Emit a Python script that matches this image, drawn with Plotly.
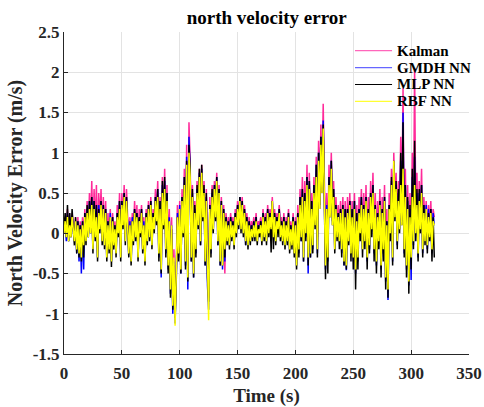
import plotly.graph_objects as go

time_s = list(range(0, 321))

kalman = [
    0.05, 0.20, 0.00, 0.30, -0.05, 0.20, 0.00, 0.25, 0.10, -0.05,
    0.20, -0.15, 0.20, -0.20, 0.15, -0.25, 0.20, -0.10, 0.30, 0.00,
    0.40, 0.05, 0.50, 0.10, 0.65, -0.10, 0.55, 0.05, 0.60, -0.20,
    0.50, 0.15, 0.55, 0.00, 0.45, -0.05, 0.40, -0.20, 0.25, -0.10,
    0.30, -0.25, 0.25, -0.05, 0.15, -0.15, 0.35, 0.05, 0.50, -0.20,
    0.50, 0.20, 0.60, 0.00, 0.55, 0.15, -0.15, 0.20, -0.25, 0.25,
    0.00, 0.40, 0.05, 0.35, -0.20, 0.30, 0.10, 0.35, -0.10, 0.20,
    -0.25, 0.30, 0.00, 0.40, 0.05, 0.45, -0.05, 0.30, 0.10, 0.55,
    0.25, 0.65, -0.15, 0.45, -0.35, 0.70, 0.20, 0.80, -0.10, 0.60,
    -0.30, 0.30, -0.55, 0.20, -0.75, -0.20, -0.95, -0.40, 0.35, -0.15,
    0.40, -0.30, 0.55, 0.10, 0.80, -0.20, 1.10, -0.40, 1.38, 0.90,
    -0.15, 0.60, -0.35, 0.40, -0.05, 0.65, 0.20, 0.80, 0.05, 0.85,
    0.30, 0.65, -0.20, 0.55, -0.45, -0.80, 0.45, -0.05, 0.60, 0.15,
    0.65, 0.30, 0.75, 0.05, 0.60, -0.20, 0.45, -0.30, 0.35, -0.50,
    0.25, 0.00, 0.20, -0.05, 0.25, 0.05, 0.20, -0.05, 0.30, 0.10,
    0.40, 0.20, 0.45, 0.15, 0.45, 0.10, 0.35, 0.00, 0.25, -0.05,
    0.20, 0.00, 0.15, 0.05, 0.20, 0.05, 0.25, 0.00, 0.15, 0.10,
    0.20, 0.00, 0.30, 0.05, 0.25, 0.00, 0.35, 0.10, 0.30, 0.15,
    0.45, 0.05, 0.30, 0.00, 0.25, 0.15, 0.35, 0.05, 0.20, 0.00,
    0.25, -0.05, 0.20, 0.00, 0.30, -0.10, 0.15, -0.05, 0.25, -0.15,
    0.20, -0.30, 0.35, -0.10, 0.55, 0.10, 0.70, -0.15, 0.65, 0.15,
    0.85, -0.15, 0.75, -0.10, 0.50, 0.00, 0.70, 0.25, 0.95, -0.05,
    1.15, 0.50, 1.35, 0.70, 1.61, 0.60, -0.25, 0.50, -0.15, 0.85,
    0.40, 1.00, 0.30, 0.65, -0.05, 0.45, 0.10, 0.35, 0.05, 0.40,
    -0.05, 0.45, -0.20, 0.40, -0.25, 0.45, 0.05, 0.50, -0.10, 0.40,
    -0.15, 0.50, -0.30, 0.35, -0.15, 0.45, 0.15, 0.55, -0.05, 0.50,
    0.05, 0.60, -0.15, 0.45, 0.00, 0.65, 0.20, 0.75, -0.05, 0.50,
    -0.20, 0.40, 0.05, 0.55, -0.25, 0.45, -0.05, 0.60, -0.40, 0.30,
    -0.55, 0.50, 0.15, 0.80, -0.15, 1.00, 0.40, 0.75, 0.10, 0.65,
    0.25, 1.20, 0.40, 1.80, 0.00, 0.80, -0.25, 0.60, -0.45, 0.50,
    -0.15, 1.00, 0.10, 2.05, 0.20, 0.75, -0.10, 0.65, 0.20, 0.80,
    -0.05, 0.45, 0.05, 0.40, 0.00, 0.35, 0.10, 0.40, -0.05, 0.30,
    0.20,
]

gmdh = [
    0.00, 0.15, -0.10, 0.25, -0.10, 0.15, -0.05, 0.20, 0.05, -0.10,
    0.15, -0.25, 0.15, -0.35, 0.10, -0.50, 0.15, -0.45, 0.25, -0.10,
    0.30, -0.05, 0.40, 0.00, 0.45, -0.20, 0.40, -0.05, 0.35, -0.30,
    0.35, 0.05, 0.40, -0.10, 0.35, -0.15, 0.30, -0.30, 0.15, -0.20,
    0.25, -0.35, 0.20, -0.15, 0.10, -0.25, 0.25, 0.00, 0.40, -0.30,
    0.40, 0.10, 0.50, -0.10, 0.45, 0.05, -0.25, 0.15, -0.35, 0.20,
    -0.10, 0.30, -0.05, 0.25, -0.30, 0.20, 0.00, 0.30, -0.20, 0.15,
    -0.35, 0.25, -0.10, 0.35, -0.05, 0.40, -0.15, 0.25, 0.05, 0.45,
    0.15, 0.55, -0.30, 0.40, -0.55, 0.60, 0.10, 0.65, -0.25, 0.50,
    -0.45, 0.20, -0.75, 0.10, -1.00, -0.35, -1.12, -0.55, 0.25, -0.30,
    0.35, -0.50, 0.45, 0.00, 0.70, -0.40, 0.95, -0.70, 1.20, 0.75,
    -0.35, 0.50, -0.55, 0.30, -0.25, 0.55, 0.10, 0.75, -0.15, 0.80,
    0.20, 0.55, -0.40, 0.45, -0.65, -0.95, 0.35, -0.25, 0.50, 0.05,
    0.60, 0.20, 0.70, -0.15, 0.55, -0.40, 0.40, -0.45, 0.30, -0.35,
    0.20, -0.10, 0.15, -0.15, 0.20, -0.05, 0.15, -0.15, 0.25, 0.00,
    0.35, 0.10, 0.45, 0.05, 0.40, 0.00, 0.30, -0.15, 0.20, -0.15,
    0.15, -0.10, 0.10, -0.05, 0.15, -0.05, 0.20, -0.10, 0.10, 0.00,
    0.15, -0.10, 0.25, -0.05, 0.20, -0.10, 0.30, 0.00, 0.25, 0.05,
    0.40, -0.05, 0.25, -0.10, 0.20, 0.05, 0.30, -0.05, 0.15, -0.10,
    0.20, -0.15, 0.15, -0.10, 0.25, -0.20, 0.10, -0.15, 0.20, -0.25,
    0.15, -0.40, 0.25, -0.25, 0.45, -0.10, 0.55, -0.35, 0.50, -0.05,
    0.70, -0.50, 0.65, -0.30, 0.40, -0.20, 0.60, 0.10, 0.85, -0.25,
    1.00, 0.35, 1.20, 0.55, 1.40, 0.45, -0.45, 0.35, -0.35, 0.70,
    0.25, 0.90, 0.15, 0.55, -0.20, 0.35, -0.05, 0.25, -0.10, 0.30,
    -0.25, 0.35, -0.40, 0.30, -0.46, 0.30, -0.10, 0.40, -0.25, 0.30,
    -0.35, 0.40, -0.50, 0.25, -0.35, 0.30, 0.00, 0.45, -0.20, 0.35,
    -0.10, 0.45, -0.35, 0.30, -0.20, 0.50, 0.05, 0.60, -0.25, 0.35,
    -0.40, 0.25, -0.10, 0.40, -0.45, 0.30, -0.25, 0.45, -0.60, 0.15,
    -0.83, 0.35, 0.00, 0.65, -0.35, 0.85, 0.20, 0.60, -0.15, 0.50,
    0.05, 0.90, 0.15, 1.50, -0.25, 0.60, -0.45, 0.40, -0.65, 0.30,
    -0.58, 0.70, -0.15, 0.95, 0.00, 0.50, -0.30, 0.50, 0.05, 0.60,
    -0.25, 0.35, -0.10, 0.35, -0.20, 0.30, -0.05, 0.30, -0.25, 0.25,
    0.10,
]

mlp = [
    0.05, 0.25, -0.05, 0.35, -0.10, 0.25, -0.05, 0.30, 0.05, -0.15,
    0.20, -0.25, 0.15, -0.30, 0.10, -0.35, 0.15, -0.30, 0.25, -0.15,
    0.35, -0.05, 0.40, 0.00, 0.45, -0.25, 0.40, -0.10, 0.35, -0.35,
    0.30, 0.00, 0.40, -0.15, 0.35, -0.20, 0.30, -0.35, 0.15, -0.25,
    0.20, -0.42, 0.20, -0.20, 0.10, -0.30, 0.25, -0.05, 0.40, -0.35,
    0.40, 0.05, 0.50, -0.15, 0.45, 0.00, -0.30, 0.10, -0.40, 0.15,
    -0.15, 0.30, -0.10, 0.25, -0.35, 0.20, -0.05, 0.30, -0.25, 0.10,
    -0.40, 0.25, -0.15, 0.35, -0.10, 0.40, -0.20, 0.25, 0.00, 0.45,
    0.10, 0.55, -0.35, 0.40, -0.50, 0.65, 0.05, 0.70, -0.30, 0.50,
    -0.50, 0.15, -0.80, 0.05, -0.95, -0.40, -1.05, -0.60, 0.20, -0.35,
    0.30, -0.50, 0.45, -0.05, 0.70, -0.45, 0.90, -0.60, 1.10, 0.80,
    -0.35, 0.55, -0.55, 0.35, -0.30, 0.60, 0.05, 0.80, -0.15, 0.85,
    0.15, 0.60, -0.40, 0.50, -0.55, -0.85, 0.35, -0.30, 0.55, 0.00,
    0.60, 0.15, 0.70, -0.15, 0.55, -0.40, 0.40, -0.40, 0.30, -0.30,
    0.20, -0.15, 0.15, -0.20, 0.20, -0.10, 0.15, -0.20, 0.25, -0.05,
    0.35, 0.05, 0.45, 0.00, 0.40, -0.05, 0.30, -0.15, 0.20, -0.20,
    0.15, -0.15, 0.10, -0.10, 0.15, -0.10, 0.20, -0.15, 0.10, -0.05,
    0.15, -0.15, 0.25, -0.10, 0.20, -0.15, 0.30, -0.05, 0.25, -0.24,
    0.40, -0.20, 0.25, -0.15, 0.20, -0.05, 0.30, -0.10, 0.15, -0.15,
    0.20, -0.20, 0.15, -0.15, 0.25, -0.25, 0.10, -0.20, 0.20, -0.30,
    0.15, -0.45, 0.25, -0.30, 0.45, -0.10, 0.55, -0.35, 0.50, -0.10,
    0.70, -0.40, 0.65, -0.30, 0.40, -0.25, 0.60, 0.05, 0.85, -0.30,
    1.00, 0.30, 1.20, 0.50, 1.35, 0.40, -0.57, 0.30, -0.50, 0.70,
    0.20, 0.90, 0.10, 0.55, -0.25, 0.35, -0.10, 0.25, -0.20, 0.30,
    -0.30, 0.35, -0.40, 0.30, -0.45, 0.30, -0.15, 0.40, -0.35, 0.30,
    -0.45, 0.40, -0.70, 0.25, -0.45, 0.30, -0.10, 0.45, -0.30, 0.35,
    -0.20, 0.45, -0.45, 0.30, -0.25, 0.50, -0.05, 0.60, -0.35, 0.35,
    -0.50, 0.25, -0.20, 0.40, -0.55, 0.30, -0.35, 0.45, -0.70, 0.15,
    -0.80, 0.35, -0.10, 0.70, -0.40, 0.90, 0.15, 0.65, -0.20, 0.55,
    0.00, 1.00, 0.10, 1.38, -0.30, 0.60, -0.55, 0.45, -0.75, 0.35,
    -0.45, 0.80, -0.20, 1.15, -0.10, 0.55, -0.35, 0.55, 0.00, 0.60,
    -0.30, 0.35, -0.15, 0.30, -0.25, 0.25, -0.10, 0.30, -0.35, 0.20,
    -0.30,
]

rbf = [
    0.00, 0.15, -0.05, 0.20, -0.10, 0.10, -0.05, 0.20, 0.05, -0.10,
    0.15, -0.20, 0.10, -0.25, 0.05, -0.30, 0.10, -0.15, 0.20, -0.10,
    0.25, -0.05, 0.30, 0.00, 0.35, -0.20, 0.30, -0.05, 0.20, -0.30,
    0.25, 0.05, 0.35, -0.10, 0.30, -0.15, 0.25, -0.30, 0.10, -0.20,
    0.20, -0.35, 0.15, -0.15, 0.05, -0.25, 0.20, 0.00, 0.30, -0.30,
    0.35, 0.10, 0.45, -0.10, 0.40, 0.05, -0.25, 0.10, -0.35, 0.15,
    -0.10, 0.25, -0.05, 0.20, -0.30, 0.15, 0.00, 0.25, -0.20, 0.10,
    -0.35, 0.20, -0.10, 0.30, -0.05, 0.35, -0.15, 0.20, 0.05, 0.40,
    0.15, 0.45, -0.25, 0.30, -0.45, 0.50, 0.10, 0.55, -0.20, 0.40,
    -0.40, 0.15, -0.70, 0.10, -0.90, -0.30, -1.15, -0.50, 0.20, -0.25,
    0.30, -0.45, 0.40, 0.00, 0.60, -0.35, 0.85, -0.55, 1.00, 0.70,
    -0.30, 0.45, -0.50, 0.25, -0.20, 0.50, 0.10, 0.70, -0.10, 0.75,
    0.20, 0.50, -0.35, 0.40, -0.60, -1.08, 0.30, -0.20, 0.45, 0.05,
    0.55, 0.20, 0.65, -0.10, 0.50, -0.35, 0.35, -0.40, 0.25, -0.20,
    0.15, -0.10, 0.10, -0.15, 0.15, -0.05, 0.10, -0.15, 0.20, 0.00,
    0.30, 0.10, 0.40, 0.05, 0.35, 0.00, 0.25, -0.10, 0.15, -0.15,
    0.10, -0.10, 0.05, -0.05, 0.10, -0.05, 0.15, -0.10, 0.05, 0.00,
    0.10, -0.10, 0.20, -0.05, 0.15, -0.10, 0.25, 0.00, 0.20, 0.05,
    0.40, -0.05, 0.20, -0.10, 0.15, 0.05, 0.25, -0.05, 0.10, -0.10,
    0.15, -0.15, 0.10, -0.10, 0.20, -0.20, 0.05, -0.15, 0.15, -0.25,
    0.10, -0.40, 0.20, -0.20, 0.35, -0.05, 0.45, -0.30, 0.40, 0.00,
    0.60, -0.30, 0.55, -0.25, 0.30, -0.15, 0.50, 0.10, 0.70, -0.20,
    0.90, 0.30, 1.10, 0.50, 1.30, 0.40, -0.40, 0.30, -0.30, 0.60,
    0.20, 0.80, 0.10, 0.45, -0.20, 0.30, -0.05, 0.20, -0.10, 0.25,
    -0.20, 0.30, -0.35, 0.20, -0.40, 0.25, -0.10, 0.35, -0.25, 0.20,
    -0.30, 0.30, -0.45, 0.15, -0.30, 0.25, 0.00, 0.35, -0.20, 0.30,
    -0.10, 0.40, -0.30, 0.25, -0.15, 0.45, 0.05, 0.50, -0.20, 0.30,
    -0.35, 0.20, -0.10, 0.35, -0.40, 0.25, -0.20, 0.40, -0.55, 0.10,
    -0.70, 0.30, 0.00, 0.60, -0.30, 0.90, 0.20, 0.55, -0.10, 0.40,
    0.05, 0.60, 0.10, 0.80, -0.20, 0.45, -0.40, 0.30, -0.60, 0.20,
    -0.30, 0.45, -0.10, 0.60, 0.00, 0.35, -0.25, 0.40, 0.05, 0.50,
    -0.20, 0.25, -0.10, 0.30, -0.15, 0.20, -0.05, 0.25, -0.20, 0.15,
    0.10,
]

series_names = ["Kalman", "GMDH NN", "MLP NN", "RBF NN"]
series_colors = ["#ff2a9a", "#0000ff", "#000000", "#ffff00"]
series_values = [kalman, gmdh, mlp, rbf]

x_ticks = [0, 50, 100, 150, 200, 250, 300, 350]
y_ticks = [-1.5, -1, -0.5, 0, 0.5, 1, 1.5, 2, 2.5]
y_tick_labels = ["-1.5", "-1", "-0.5", "0", "0.5", "1", "1.5", "2", "2.5"]

serif = "Liberation Serif"
ink = "#262626"

fig = go.Figure()
for name, color, vals in zip(series_names, series_colors, series_values):
    fig.add_trace(go.Scatter(
        x=time_s, y=vals, mode="lines", name=name, showlegend=False,
        line=dict(color=color, width=1.5),
    ))

# compact legend (MATLAB-style spacing), placed in paper coordinates
legend_line_colors = ["#ff66bb", "#6666ff", "#000000", "#ffff33"]
lg_x0, lg_x1, lg_tx = 0.7185, 0.81, 0.82
lg_top, lg_step = 0.942, 0.0525
for i, (name, lc) in enumerate(zip(series_names, legend_line_colors)):
    yy = lg_top - i * lg_step
    fig.add_shape(type="line", xref="paper", yref="paper",
                  x0=lg_x0, x1=lg_x1, y0=yy, y1=yy,
                  line=dict(color=lc, width=1.2))
    fig.add_annotation(xref="paper", yref="paper", x=lg_tx, y=yy,
                       xanchor="left", yanchor="middle", showarrow=False,
                       text=name, borderpad=0,
                       font=dict(family=serif, size=15, color="black", weight="bold"))

axis_common = dict(
    showgrid=True, gridcolor="#e3e3e3", gridwidth=1, automargin=False,
    zeroline=False, ticks="inside", ticklen=4, tickcolor=ink,
    showline=True, linecolor=ink, linewidth=1,
    tickfont=dict(family=serif, size=17, color=ink, weight="bold"),
)

fig.update_layout(
    width=484, height=407,
    margin=dict(l=64, r=15, t=32, b=53),
    paper_bgcolor="white", plot_bgcolor="white",
    title=dict(text="<b>north velocity error</b>", x=0.551, xanchor="center",
               y=0.958, yanchor="middle",
               font=dict(family=serif, size=19, color="black")),
    showlegend=False,
)
fig.update_xaxes(
    range=[0, 350], tickvals=x_ticks, ticklabelstandoff=4, **axis_common,
    title=dict(text="Time (s)", standoff=6,
               font=dict(family=serif, size=19, color=ink, weight="bold")),
)
fig.update_yaxes(
    range=[-1.5, 2.5], tickvals=y_ticks, ticktext=y_tick_labels, **axis_common,
    title=dict(text="North Velocity Error (m/s)", standoff=4,
               font=dict(family=serif, size=20, color=ink, weight="bold")),
)

fig.write_html("out.html")
